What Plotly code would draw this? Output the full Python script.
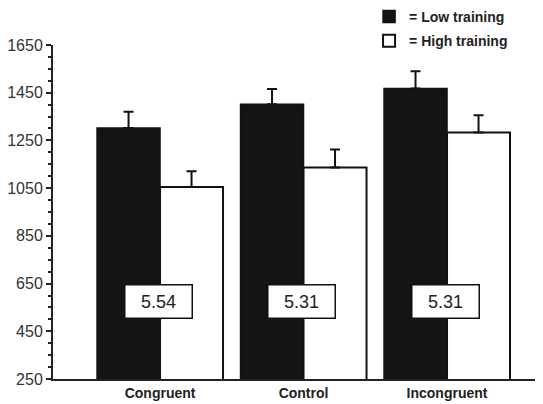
import plotly.graph_objects as go

categories = ["Congruent", "Control", "Incongruent"]
low_training = [1302, 1402, 1468]
low_err = [68, 64, 72]
high_training = [1055, 1137, 1283]
high_err = [66, 75, 73]
box_labels = ["5.54", "5.31", "5.31"]
box_level = [575, 575, 575]
y_ticks = [250, 450, 650, 850, 1050, 1250, 1450, 1650]

FONT = "Liberation Sans, Arial, sans-serif"

fig = go.Figure()
fig.add_trace(go.Bar(
    x=categories, y=low_training, name="= Low training", legendgroup="low",
    marker=dict(color="#141414", line=dict(color="#111", width=1.5)),
    error_y=dict(type="data", array=low_err, arrayminus=[0, 0, 0], symmetric=False,
                 color="#111", thickness=2, width=5),
))
fig.add_trace(go.Bar(
    x=categories, y=high_training, name="= High training", legendgroup="high",
    marker=dict(color="white", line=dict(color="#111", width=2)),
    error_y=dict(type="data", array=high_err, arrayminus=[0, 0, 0], symmetric=False,
                 color="#111", thickness=2, width=5),
))

for c, t, yv in zip(categories, box_labels, box_level):
    fig.add_annotation(
        x=c, y=yv, text=t, showarrow=False,
        font=dict(family=FONT, size=18, color="#222"),
        bgcolor="white", bordercolor="#111", borderwidth=1.5,
        width=62, height=28, borderpad=2, xshift=-2,
    )

# page body keeps the browser's default 8px margin, so the figure is sized to fit
fig.update_layout(
    width=535, height=396,
    margin=dict(l=45, r=3, t=0, b=0, autoexpand=False),
    paper_bgcolor="white", plot_bgcolor="white",
    barmode="group", bargap=0.122, bargroupgap=0,
    font=dict(family=FONT, color="#222"),
    legend=dict(
        x=0.649, y=1.018, xref="paper", yref="paper",
        xanchor="left", yanchor="top",
        font=dict(family=FONT, size=14, color="#222", weight="bold"),
        traceorder="grouped", tracegroupgap=3, itemwidth=30,
        bgcolor="rgba(0,0,0,0)",
    ),
    xaxis=dict(
        type="category", range=[-0.746, 2.648],
        showline=True, linecolor="#222", linewidth=2,
        ticks="", showgrid=False, zeroline=False, automargin=False,
        tickfont=dict(family=FONT, size=14, color="#222", weight="bold"),
    ),
    yaxis=dict(
        domain=[0.0631, 0.9066], automargin=False,
        range=[250, 1650], tickmode="array", tickvals=y_ticks,
        ticktext=[str(v) for v in y_ticks],
        showline=True, linecolor="#222", linewidth=2,
        ticks="outside", ticklen=5, tickwidth=2, tickcolor="#222",
        minor=dict(dtick=50, tick0=250, ticks="outside", ticklen=3, tickwidth=1.5, tickcolor="#222", showgrid=False),
        showgrid=False, zeroline=False,
        tickfont=dict(family=FONT, size=16, color="#333"),
    ),
)

fig.write_html("out.html")
